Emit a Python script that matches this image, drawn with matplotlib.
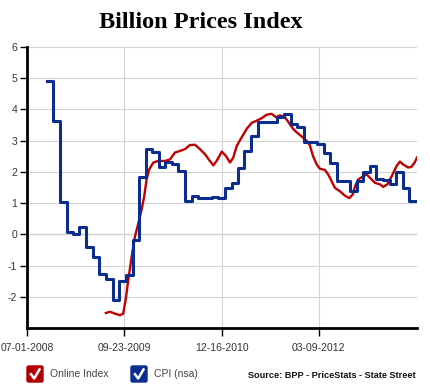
import matplotlib.pyplot as plt
import matplotlib.dates as mdates
from matplotlib.patches import FancyBboxPatch
from matplotlib.lines import Line2D
import pandas as pd

plt.rcParams["font.family"] = ["Liberation Sans", "DejaVu Sans"]

# Online Index (daily)
online_dates = ["2009-06-30", "2009-07-19", "2009-08-11", "2009-09-03", "2009-09-18",
                "2009-10-01", "2009-10-11", "2009-10-27", "2009-11-11", "2009-11-27",
                "2009-12-12", "2009-12-24", "2010-01-04", "2010-01-16", "2010-02-04",
                "2010-02-27", "2010-03-30", "2010-04-22", "2010-05-15", "2010-06-07",
                "2010-06-30", "2010-07-23", "2010-08-15", "2010-09-07", "2010-09-30",
                "2010-10-23", "2010-11-08", "2010-11-23", "2010-12-17", "2011-01-05",
                "2011-01-24", "2011-02-08", "2011-02-24", "2011-03-19", "2011-04-11",
                "2011-05-04", "2011-05-27", "2011-06-19", "2011-07-12", "2011-08-04",
                "2011-08-24", "2011-09-11", "2011-10-04", "2011-10-19", "2011-11-11",
                "2011-11-27", "2011-12-20", "2012-01-12", "2012-01-27", "2012-02-11",
                "2012-02-28", "2012-03-14", "2012-04-06", "2012-04-21", "2012-05-07",
                "2012-05-22", "2012-06-14", "2012-07-07", "2012-07-27", "2012-08-12",
                "2012-08-23", "2012-09-07", "2012-09-30", "2012-10-16", "2012-10-31",
                "2012-11-23", "2012-12-16", "2012-12-31", "2013-01-19", "2013-02-08",
                "2013-03-03", "2013-03-18", "2013-04-02", "2013-04-25", "2013-05-10",
                "2013-05-25", "2013-06-05"]
online_vals = [-2.52, -2.48, -2.54, -2.59, -2.54,
               -2.02, -1.48, -0.72, -0.08, 0.36,
               0.79, 1.22, 1.76, 2.08, 2.30,
               2.35, 2.35, 2.40, 2.62, 2.67,
               2.73, 2.86, 2.87, 2.73, 2.57,
               2.35, 2.21, 2.35, 2.65, 2.51,
               2.30, 2.46, 2.83, 3.11, 3.38,
               3.57, 3.64, 3.72, 3.83, 3.86,
               3.75, 3.81, 3.75, 3.61, 3.38,
               3.27, 3.14, 3.00, 2.86, 2.51,
               2.24, 2.10, 2.06, 1.92, 1.70,
               1.49, 1.38, 1.24, 1.16, 1.27,
               1.54, 1.76, 1.86, 1.92, 1.81,
               1.65, 1.60, 1.52, 1.60, 1.86,
               2.19, 2.33, 2.24, 2.14, 2.16,
               2.30, 2.46]

# CPI (nsa), monthly, Sep 2008 .. Apr 2013 (each step begins at month end)
cpi_start = "2008-09-30"
cpi_vals = [4.92, 3.62, 1.05, 0.07, 0.00, 0.23, -0.40, -0.74, -1.28, -1.42,
            -2.10, -1.50, -1.30, -0.18, 1.84, 2.73, 2.64, 2.15, 2.33, 2.24,
            2.03, 1.08, 1.24, 1.15, 1.15, 1.20, 1.15, 1.49, 1.65, 2.11,
            2.67, 3.16, 3.59, 3.59, 3.60, 3.75, 3.86, 3.54, 3.43, 2.96,
            2.96, 2.89, 2.62, 2.30, 1.70, 1.70, 1.40, 1.70, 2.00, 2.19,
            1.78, 1.74, 1.60, 2.00, 1.47, 1.08]

x_start = "2008-07-01"
x_end = "2013-06-05"
tick_dates = ["2008-07-01", "2009-09-23", "2010-12-16", "2012-03-09"]
tick_labels = ["07-01-2008", "09-23-2009", "12-16-2010", "03-09-2012"]
y_ticks = [-2, -1, 0, 1, 2, 3, 4, 5, 6]

red = "#c00000"
blue = "#0a2d8f"

fig = plt.figure(figsize=(4.3, 3.9), dpi=100)
ax = fig.add_axes([27 / 430, 62 / 390, 390 / 430, 281 / 390])

od = pd.to_datetime(online_dates)
cd = list(pd.date_range(cpi_start, periods=len(cpi_vals), freq="ME"))
cd.append(pd.Timestamp(x_end))
cv = cpi_vals + [cpi_vals[-1]]

ax.plot(od, online_vals, color=red, lw=1.7, zorder=3, solid_joinstyle="round")
ax.plot(cd, cv, color=blue, lw=2.2, drawstyle="steps-post", zorder=4)

ax.set_xlim(pd.Timestamp(x_start), pd.Timestamp(x_end))
ax.set_ylim(-3, 6)
ax.set_yticks(y_ticks)
ax.set_yticklabels([str(v) for v in y_ticks])
ax.set_xticks(pd.to_datetime(tick_dates))
ax.set_xticklabels(tick_labels)

ax.grid(True, color="#d3d3d3", lw=0.8, zorder=0)
ax.axhline(0, color="#555555", lw=0.8, zorder=1)
for s in ["top", "right"]:
    ax.spines[s].set_visible(False)
for s in ["left", "bottom"]:
    ax.spines[s].set_linewidth(2)
    ax.spines[s].set_color("black")
ax.tick_params(axis="y", length=5, width=1, colors="black", labelcolor="#333333",
               labelsize=7.5, pad=2)
ax.tick_params(axis="x", length=6, width=1, colors="black", labelcolor="#333333",
               labelsize=7.5, pad=5)

fig.text(201 / 430, 1 - 22 / 390, "Billion Prices Index", ha="center", va="center",
         fontsize=17.5, fontweight="bold", family=["Liberation Serif", "DejaVu Serif"])

# legend with check boxes
def check_box(x0, color, label):
    y0 = 1 - 382 / 390
    w, h = 16 / 430, 16 / 390
    fig.patches.append(FancyBboxPatch((x0, y0), w, h,
                                      boxstyle="round,pad=0,rounding_size=0.004",
                                      transform=fig.transFigure, fc=color, ec=color))
    fig.lines.append(Line2D([x0 + w * 0.2, x0 + w * 0.45, x0 + w * 0.82],
                            [y0 + h * 0.55, y0 + h * 0.22, y0 + h * 0.85],
                            transform=fig.transFigure, color="white", lw=1.8,
                            solid_capstyle="butt"))
    fig.text(x0 + w + 7 / 430, y0 + h / 2, label, ha="left", va="center",
             fontsize=7.5, color="#444444")

check_box(27 / 430, "#b00000", "Online Index")
check_box(131 / 430, "#0a2d8f", "CPI (nsa)")
fig.text(416 / 430, 1 - 375 / 390, "Source: BPP - PriceStats - State Street",
         ha="right", va="center", fontsize=6.6, fontweight="bold", color="#111111")

fig.savefig("out.png", dpi=100)
